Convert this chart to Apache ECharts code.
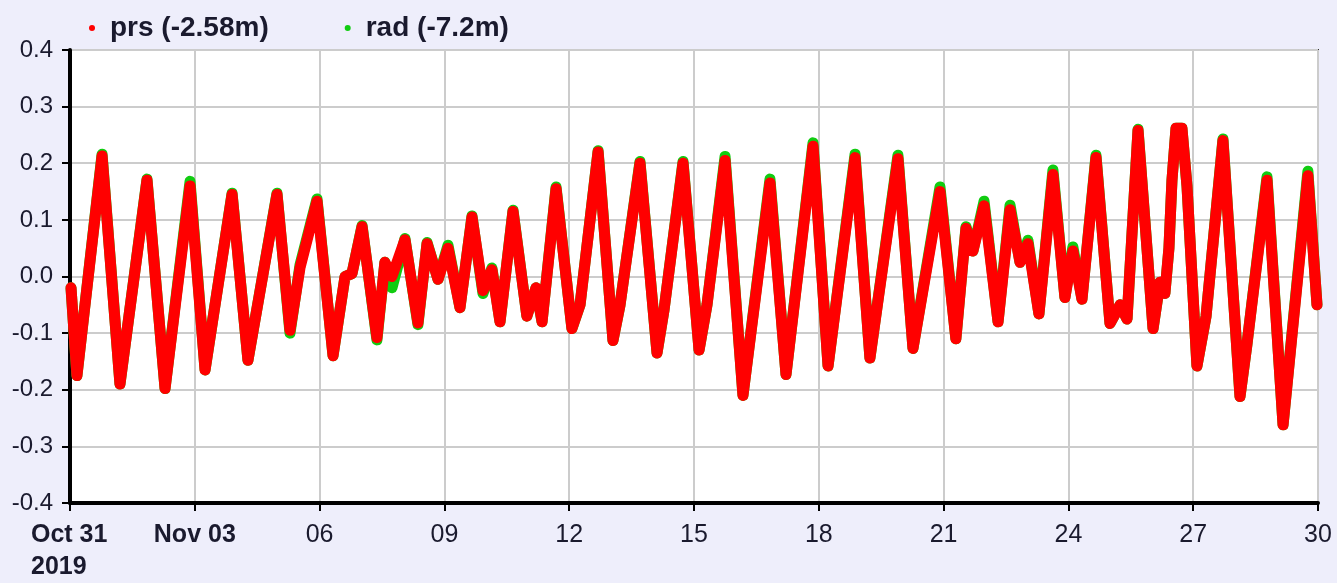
<!DOCTYPE html>
<html>
<head>
<meta charset="utf-8">
<script src="https://cdn.jsdelivr.net/npm/echarts@6/dist/echarts.min.js"></script>
<style>
html,body{margin:0;padding:0;background:#eeeefb;}
#chart{width:1337px;height:583px;}
</style>
</head>
<body>
<div id="chart"></div>
<script>
// sample times (MM-DD HH:mm, 2019)
var times = [
'10-31 00:35','10-31 04:00','10-31 18:30','11-01 04:50','11-01 20:25','11-02 06:50','11-02 21:15','11-03 05:55',
'11-03 21:30','11-04 06:40','11-04 23:25','11-05 06:55','11-05 12:40','11-05 22:30','11-06 07:45','11-06 14:40',
'11-06 18:40','11-07 00:30','11-07 09:05','11-07 13:40','11-07 17:45','11-08 01:15','11-08 08:45','11-08 14:00',
'11-08 20:20','11-09 02:05','11-09 09:00','11-09 15:55','11-09 22:15','11-10 03:25','11-10 08:05','11-10 15:35',
'11-10 23:35','11-11 04:50','11-11 08:20','11-11 16:25','11-12 01:35','11-12 06:15','11-12 16:40','11-13 01:15',
'11-13 05:20','11-13 16:50','11-14 02:40','11-14 06:40','11-14 17:40','11-15 02:55','11-15 07:30','11-15 17:55',
'11-16 04:15','11-16 19:50','11-17 05:05','11-17 20:40','11-18 05:20','11-18 20:55','11-19 05:30','11-19 21:40',
'11-20 06:20','11-20 21:55','11-21 07:05','11-21 12:55','11-21 16:55','11-21 23:20','11-22 07:25','11-22 14:20',
'11-22 20:05','11-23 00:40','11-23 07:00','11-23 15:05','11-23 22:00','11-24 02:35','11-24 07:50','11-24 15:55',
'11-25 00:00','11-25 05:50','11-25 09:50','11-25 16:10','11-26 00:50','11-26 04:50','11-26 07:40','11-26 10:00',
'11-26 11:45','11-26 14:05','11-26 17:30','11-26 20:25','11-27 02:10','11-27 07:25','11-27 17:10','11-28 03:00',
'11-28 07:00','11-28 18:35','11-29 03:50','11-29 18:10','11-29 23:25'
];
var prsValues = [
-0.02,-0.175,0.213,-0.19,0.17,-0.198,0.16,-0.165,
0.145,-0.148,0.145,-0.095,0.015,0.133,-0.14,0.0,
0.005,0.088,-0.108,0.025,0.0,0.065,-0.082,0.058,
-0.005,0.05,-0.055,0.105,-0.025,0.012,-0.08,0.115,
-0.07,-0.02,-0.08,0.155,-0.092,-0.05,0.22,-0.113,
-0.05,0.2,-0.135,-0.06,0.2,-0.13,-0.05,0.205,
-0.21,0.165,-0.173,0.23,-0.158,0.21,-0.144,0.208,
-0.127,0.15,-0.11,0.085,0.045,0.125,-0.08,0.118,
0.025,0.058,-0.066,0.18,-0.037,0.045,-0.04,0.21,
-0.083,-0.05,-0.075,0.258,-0.092,-0.01,-0.03,0.05,
0.17,0.262,0.262,0.16,-0.158,-0.07,0.24,-0.212,
-0.12,0.17,-0.262,0.178,-0.05
];
var radValues = [
-0.02,-0.175,0.216,-0.19,0.172,-0.198,0.168,-0.165,
0.147,-0.148,0.147,-0.1,0.02,0.137,-0.14,0.0,
0.005,0.09,-0.112,0.025,-0.02,0.067,-0.085,0.06,
-0.005,0.055,-0.055,0.107,-0.03,0.015,-0.08,0.117,
-0.07,-0.02,-0.08,0.158,-0.092,-0.05,0.222,-0.113,
-0.05,0.203,-0.135,-0.06,0.203,-0.13,-0.05,0.212,
-0.21,0.172,-0.173,0.236,-0.158,0.216,-0.144,0.214,
-0.127,0.158,-0.11,0.088,0.045,0.133,-0.08,0.126,
0.025,0.064,-0.066,0.188,-0.037,0.052,-0.04,0.214,
-0.083,-0.05,-0.075,0.26,-0.092,-0.01,-0.03,0.05,
0.17,0.262,0.262,0.16,-0.158,-0.07,0.243,-0.212,
-0.12,0.176,-0.262,0.186,-0.05
];
var xTickLabels = ['Oct 31\n2019','Nov 03','06','09','12','15','18','21','24','27','30'];
var seriesNames = ['prs (-2.58m)','rad (-7.2m)'];

// days since Oct 31 00:00
function toDays(s){
    var md = s.split(' ')[0].split('-'), hm = s.split(' ')[1].split(':');
    var d = md[0] == '10' ? (+md[1] - 31) : +md[1];
    return d + (+hm[0] + hm[1] / 60) / 24;
}
function pairs(vals){
    var out = [];
    for(var i = 0;i < times.length;i++){
        out.push([toDays(times[i]), vals[i]]);
    }
    return out;
}

var txt = '#1a1a2e';
var font = 'Liberation Sans, Arial, sans-serif';
var option = {
    animation:false,
    backgroundColor:'#eeeefb',
    textStyle:{fontFamily:font},
    legend:{
        left:84,
        top:9,
        icon:'circle',
        itemWidth:6,
        itemHeight:6,
        itemGap:76,
        textStyle:{
            fontSize:28,
            fontWeight:'bold',
            color:txt,
            fontFamily:font,
            padding:[0,0,0,10]
        },
        data:seriesNames
    },
    grid:{
        left:70,
        right:19,
        top:50,
        bottom:73,
        show:true,
        backgroundColor:'#ffffff',
        borderColor:'#333333',
        borderWidth:2
    },
    xAxis:{
        type:'value',
        min:0,
        max:30,
        interval:3,
        axisLine:{onZero:false, lineStyle:{color:'#000', width:4}},
        axisTick:{length:8, lineStyle:{color:'#000', width:2}},
        splitLine:{show:true, lineStyle:{color:'#cccccc', width:2}},
        axisLabel:{
            margin:16,
            fontSize:25,
            color:txt,
            fontFamily:font,
            lineHeight:32,
            formatter:function(v){
                var i = Math.round(v / 3);
                var s = xTickLabels[i];
                if(i == 0){
                    // first label: two lines, left aligned
                    return s.split('\n').map(function(p){ return '{f|' + p + '}'; }).join('\n');
                }
                if(i == 1){
                    return '{b|' + s + '}';
                }
                return s;
            },
            rich:{
                f:{fontWeight:'bold', fontSize:25, color:txt, fontFamily:font, lineHeight:32, width:78, align:'left'},
                b:{fontWeight:'bold', fontSize:25, color:txt, fontFamily:font, lineHeight:32}
            }
        }
    },
    yAxis:{
        type:'value',
        min:-0.4,
        max:0.4,
        interval:0.1,
        axisLine:{show:true, lineStyle:{color:'#000', width:4}},
        axisTick:{show:true, length:8, lineStyle:{color:'#000', width:2}},
        splitLine:{show:true, lineStyle:{color:'#cccccc', width:2}},
        axisLabel:{
            margin:17,
            fontSize:24,
            color:txt,
            fontFamily:font,
            formatter:function(v){ return v.toFixed(1); }
        }
    },
    series:[
        {
            name:seriesNames[1],
            type:'line',
            showSymbol:false,
            silent:true,
            color:'#11cc11',
            lineStyle:{width:11, color:'#11cc11', join:'round', cap:'round'},
            z:2,
            data:pairs(radValues)
        },
        {
            name:seriesNames[0],
            type:'line',
            showSymbol:false,
            silent:true,
            color:'#ff0000',
            lineStyle:{width:11, color:'#ff0000', join:'round', cap:'round'},
            z:3,
            data:pairs(prsValues)
        }
    ]
};

var myChart = echarts.init(document.getElementById('chart'));
myChart.setOption(option, true);
</script>
</body>
</html>
